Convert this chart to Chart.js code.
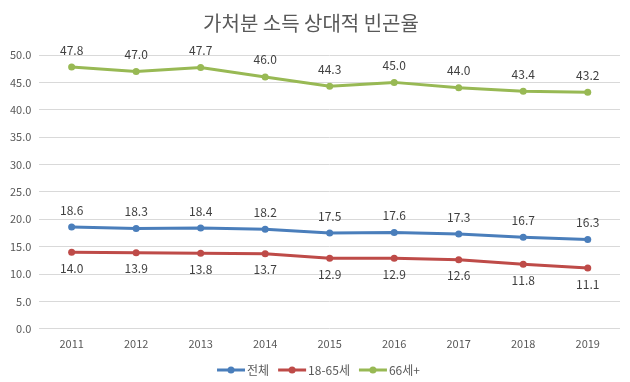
<!DOCTYPE html>
<html>
<head>
<meta charset="utf-8">
<script src="https://cdn.jsdelivr.net/npm/chart.js@4"></script>
<style>
  html, body { margin: 0; padding: 0; background: #fff; }
  #wrap { width: 630px; height: 382px; }
</style>
</head>
<body>
<div id="wrap"><canvas id="chart" width="630" height="382"></canvas></div>
<script>
var years = ['2011', '2012', '2013', '2014', '2015', '2016', '2017', '2018', '2019'];
var total = [18.6, 18.3, 18.4, 18.2, 17.5, 17.6, 17.3, 16.7, 16.3];
var working = [14.0, 13.9, 13.8, 13.7, 12.9, 12.9, 12.6, 11.8, 11.1];
var elderly = [47.8, 47.0, 47.7, 46.0, 44.3, 45.0, 44.0, 43.4, 43.2];
var seriesNames = ['전체', '18-65세', '66세+'];
var yTicks = [0, 5, 10, 15, 20, 25, 30, 35, 40, 45, 50];

var FONT = "'Noto Sans CJK KR', 'Malgun Gothic', sans-serif";
var colors = ['#4a7ebb', '#be4b48', '#98b954'];

// draws the value labels next to each point
var valueLabels = {
    id: 'valueLabels',
    afterDatasetsDraw: function(chart) {
        var ctx = chart.ctx;
        ctx.save();
        ctx.font = '12px ' + FONT;
        ctx.fillStyle = '#404040';
        ctx.textAlign = 'center';
        ctx.textBaseline = 'middle';
        chart.data.datasets.forEach(function(ds, i) {
            var meta = chart.getDatasetMeta(i);
            var below = ds.labelPos === 'below';
            meta.data.forEach(function(pt, j) {
                var y = below ? pt.y + 16 : pt.y - 17;
                ctx.fillText(ds.data[j].toFixed(1), pt.x, y);
            });
        });
        ctx.restore();
    }
};

// legend at the bottom: line-with-dot marker then the name
var lineLegend = {
    id: 'lineLegend',
    afterDraw: function(chart) {
        var ctx = chart.ctx;
        var sets = chart.data.datasets;
        var markW = 28, gap = 2, itemGap = 9;
        ctx.save();
        ctx.font = '12px ' + FONT;
        var widths = sets.map(function(ds) { return markW + gap + ctx.measureText(ds.label).width; });
        var totalW = widths.reduce(function(a, b) { return a + b; }, 0) + itemGap * (sets.length - 1);
        var x = chart.width / 2 + 3.5 - totalW / 2;
        var y = chart.height - 12;
        sets.forEach(function(ds, i) {
            ctx.strokeStyle = ds.borderColor;
            ctx.lineWidth = 3;
            ctx.beginPath();
            ctx.moveTo(x, y);
            ctx.lineTo(x + markW, y);
            ctx.stroke();
            ctx.fillStyle = ds.borderColor;
            ctx.beginPath();
            ctx.arc(x + markW / 2, y, 3.5, 0, Math.PI * 2);
            ctx.fill();
            ctx.fillStyle = '#595959';
            ctx.textAlign = 'left';
            ctx.textBaseline = 'middle';
            ctx.fillText(ds.label, x + markW + gap, y);
            x += widths[i] + itemGap;
        });
        ctx.restore();
    }
};

function makeSet(label, data, color, pos) {
    return {
        label: label,
        data: data,
        borderColor: color,
        backgroundColor: color,
        borderWidth: 3,
        pointRadius: 3.5,
        pointHoverRadius: 3.5,
        pointBorderWidth: 0,
        tension: 0,
        labelPos: pos
    };
}

new Chart(document.getElementById('chart').getContext('2d'), {
    type: 'line',
    data: {
        labels: years,
        datasets: [
            makeSet(seriesNames[0], total, colors[0], 'above'),
            makeSet(seriesNames[1], working, colors[1], 'below'),
            makeSet(seriesNames[2], elderly, colors[2], 'above')
        ]
    },
    plugins: [valueLabels, lineLegend],
    options: {
        responsive: false,
        animation: false,
        layout: { padding: { left: 2, right: 10, top: 0, bottom: 24 } },
        scales: {
            x: {
                offset: true,
                grid: { display: false, drawTicks: false },
                border: { display: false },
                ticks: { color: '#595959', font: { family: FONT, size: 11 }, padding: 8 }
            },
            y: {
                min: 0,
                max: 50,
                afterBuildTicks: function(axis) {
                    axis.ticks = yTicks.map(function(v) { return { value: v }; });
                },
                grid: { color: '#d9d9d9', drawTicks: false },
                border: { display: false },
                ticks: {
                    color: '#595959',
                    font: { family: FONT, size: 11 },
                    padding: 8,
                    callback: function(v) { return v.toFixed(1); }
                }
            }
        },
        plugins: {
            title: {
                display: true,
                text: '가처분 소득 상대적 빈곤율',
                color: '#595959',
                font: { family: FONT, size: 20, weight: 'normal' },
                padding: { top: 11, bottom: 20 }
            },
            legend: { display: false },
            tooltip: { enabled: false }
        }
    }
});
</script>
</body>
</html>
